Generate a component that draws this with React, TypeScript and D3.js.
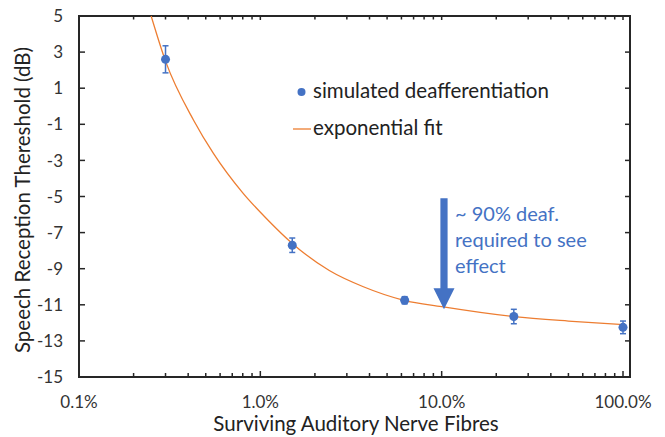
import React from "react";
import * as d3 from "d3";

// simulated deafferentiation (surviving fibres in %, SRT in dB, error in dB)
const survivingPct = [0.3, 1.5, 6.25, 25, 100];
const srtValues = [2.6, -7.7, -10.75, -11.65, -12.25];
const srtErrors = [0.75, 0.4, 0.2, 0.4, 0.35];

// exponential fit
const fitPct = [0.25, 0.3, 0.43, 0.55, 0.8, 1.1, 1.5, 2.4, 3.7, 6.2, 10, 25, 50, 100];
const fitValues = [5.0, 2.5, -0.8, -2.6, -4.8, -6.3, -7.6, -9.1, -10.0, -10.75, -11.1, -11.65, -11.9, -12.1];

const yTicks = [5, 3, 1, -1, -3, -5, -7, -9, -11, -13, -15];
const xMajor = [0.1, 1, 10, 100];
const xMajorLabels = ["0.1%", "1.0%", "10.0%", "100.0%"];

const annotationLines = ["~ 90% deaf.", "required to see", "effect"];
const arrowAt = { pct: 10.3, top: -5.1, tip: -11.25 };

const W = 665;
const H = 437;
const left = 79;
const right = 623;
const frameRight = 630;
const top = 16;
const bottom = 377;

const BLUE = "#4472C4";
const ORANGE = "#ED7D31";
const AXIS = "#262626";
const TEXT = "#333333";
const FONT = "Lato, 'Noto Sans', sans-serif";

export default function App() {
  const x = d3.scaleLog().domain([0.1, 100]).range([left, right]);
  const y = d3.scaleLinear().domain([-15, 5]).range([bottom, top]);

  const minor: number[] = [];
  [0.1, 1, 10].forEach((d) => {
    for (let k = 2; k <= 9; k++) minor.push(d * k);
  });

  const fitLine = d3
    .line<number>()
    .x((_, i) => x(fitPct[i]))
    .y((v) => y(v))
    .curve(d3.curveMonotoneX)(fitValues);

  const ax = x(arrowAt.pct);
  const aTop = y(arrowAt.top);
  const aTip = y(arrowAt.tip);
  const headH = 21;
  const headW = 10.5;
  const shaftW = 3.6;
  const arrowPts = [
    [ax - shaftW, aTop],
    [ax + shaftW, aTop],
    [ax + shaftW, aTip - headH],
    [ax + headW, aTip - headH],
    [ax, aTip],
    [ax - headW, aTip - headH],
    [ax - shaftW, aTip - headH],
  ]
    .map((p) => p.join(","))
    .join(" ");

  return (
    <svg
      width={W}
      height={H}
      style={{ position: "absolute", left: 0, top: 0, background: "#fff" }}
      fontFamily={FONT}
    >
      <defs>
        <clipPath id="plot">
          <rect x={left} y={top} width={frameRight - left} height={bottom - top} />
        </clipPath>
      </defs>

      {/* ticks */}
      {yTicks.map((t) => (
        <g key={"y" + t}>
          <line x1={left} x2={left + 6} y1={y(t)} y2={y(t)} stroke={AXIS} strokeWidth={1.5} />
          <line x1={frameRight - 5} x2={frameRight} y1={y(t)} y2={y(t)} stroke={AXIS} strokeWidth={1.5} />
          <text x={63} y={y(t)} dy="0.36em" textAnchor="end" fontSize={17} fill={TEXT}>
            {t}
          </text>
        </g>
      ))}
      {minor.map((m) => (
        <g key={"m" + m}>
          <line x1={x(m)} x2={x(m)} y1={bottom} y2={bottom - 4} stroke={AXIS} strokeWidth={1.5} />
          <line x1={x(m)} x2={x(m)} y1={top} y2={top + 3.5} stroke={AXIS} strokeWidth={1.5} />
        </g>
      ))}
      {xMajor.map((m, i) => (
        <g key={"M" + m}>
          <line x1={x(m)} x2={x(m)} y1={bottom} y2={bottom - 6} stroke={AXIS} strokeWidth={1.5} />
          <line x1={x(m)} x2={x(m)} y1={top} y2={top + 4} stroke={AXIS} strokeWidth={1.5} />
          <text x={x(m)} y={408} textAnchor="middle" fontSize={17} fill={TEXT}>
            {xMajorLabels[i]}
          </text>
        </g>
      ))}

      {/* frame */}
      <rect
        x={left}
        y={top}
        width={frameRight - left}
        height={bottom - top}
        fill="none"
        stroke={AXIS}
        strokeWidth={2}
      />

      {/* fit */}
      <path d={fitLine || ""} fill="none" stroke={ORANGE} strokeWidth={1.3} clipPath="url(#plot)" />

      {/* points with error bars */}
      {survivingPct.map((p, i) => {
        const cx = x(p);
        const hi = y(srtValues[i] + srtErrors[i]);
        const lo = y(srtValues[i] - srtErrors[i]);
        return (
          <g key={"p" + i}>
            <line x1={cx} x2={cx} y1={hi} y2={lo} stroke={BLUE} strokeWidth={1.5} />
            <line x1={cx - 3} x2={cx + 3} y1={hi} y2={hi} stroke={BLUE} strokeWidth={1.5} />
            <line x1={cx - 3} x2={cx + 3} y1={lo} y2={lo} stroke={BLUE} strokeWidth={1.5} />
            <circle cx={cx} cy={y(srtValues[i])} r={4.5} fill={BLUE} />
          </g>
        );
      })}

      {/* legend */}
      <circle cx={301.5} cy={92} r={4} fill={BLUE} />
      <text x={313} y={98} fontSize={20.5} fill="#222">
        simulated deafferentiation
      </text>
      <line x1={293} x2={311} y1={129} y2={129} stroke={ORANGE} strokeWidth={1.3} />
      <text x={313} y={135} fontSize={20.5} fill="#222">
        exponential fit
      </text>

      {/* annotation */}
      <polygon points={arrowPts} fill={BLUE} />
      {annotationLines.map((l, i) => (
        <text key={l} x={455} y={221 + i * 26} fontSize={20} fill={BLUE}>
          {l}
        </text>
      ))}

      {/* axis titles */}
      <text x={356} y={431} textAnchor="middle" fontSize={20.5} fill="#222">
        Surviving Auditory Nerve Fibres
      </text>
      <text
        transform={`translate(30,200) rotate(-90)`}
        textAnchor="middle"
        fontSize={20.5}
        fill="#222"
      >
        Speech Reception Thereshold (dB)
      </text>
    </svg>
  );
}
